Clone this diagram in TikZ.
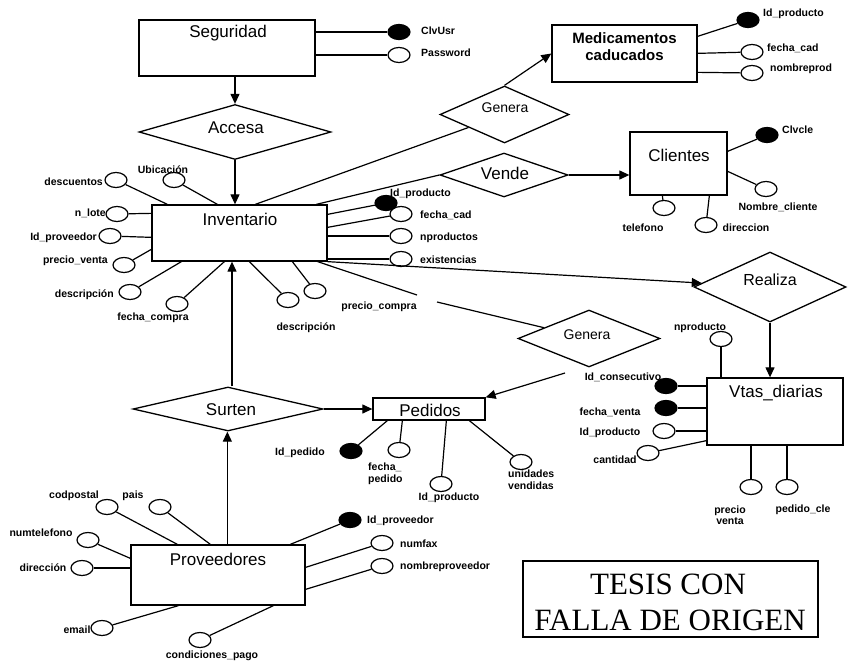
\documentclass[tikz,border=0pt]{standalone}
\usepackage{fontspec}
\setmainfont{Liberation Sans}
\newfontfamily\stampfont{Liberation Serif}
\usetikzlibrary{shapes.geometric,arrows.meta}
\begin{document}
\begin{tikzpicture}[x=1pt,y=-1pt]
\tikzset{
 ent/.style={draw, line width=1.3pt, rectangle, inner sep=0pt},
 rel/.style={draw, diamond, aspect=3.5, line width=1.3pt, inner sep=0pt},
 att/.style={draw, ellipse, line width=1.2pt, minimum width=22pt, minimum height=15pt, inner sep=0pt},
 katt/.style={att, fill=black},
 lbl/.style={font=\bfseries\fontsize{10.5}{11.5}\selectfont, inner sep=0pt},
 ename/.style={font=\fontsize{17}{20}\selectfont, inner sep=0pt},
 rname/.style={font=\fontsize{16}{19}\selectfont, inner sep=0pt},
 con/.style={line width=1.2pt},
 arr/.style={con, -{Triangle[length=10pt,width=9pt]}},
}
\useasboundingbox (0,0) rectangle (848,661);

% ---------------- entities
\node[ent, minimum width=176pt, minimum height=56pt] (seg) at (227,48) {};
\node[ename] (segT) at (228,33) {Seguridad};
\node[ent, minimum width=175pt, minimum height=56pt] (inv) at (239.5,233) {};
\node[ename] (invT) at (240,219) {Inventario};
\node[ent, minimum width=145pt, minimum height=57pt] (med) at (624.5,53.5) {};
\node[ename, font=\bfseries\fontsize{15}{17}\selectfont] (medT1) at (624.5,38) {Medicamentos};
\node[ename, font=\bfseries\fontsize{15}{17}\selectfont] (medT2) at (624.5,55) {caducados};
\node[ent, minimum width=97pt, minimum height=63pt] (cli) at (678.5,163.5) {};
\node[ename] (cliT) at (679,155) {Clientes};
\node[ent, minimum width=136pt, minimum height=67pt] (vtas) at (775,411.5) {};
\node[ename] (vtasT) at (776,393) {Vtas\_diarias};
\node[ent, minimum width=112pt, minimum height=22pt] (ped) at (429,409) {};
\node[ename] (pedT) at (430,410) {Pedidos};
\node[ent, minimum width=174pt, minimum height=60pt] (prov) at (218,575) {};
\node[ename] (provT) at (218,559) {Proveedores};

% ---------------- relationships
\node[rel, minimum width=192pt, minimum height=55pt] (acc) at (235,132) {};
\node[ename] (accT) at (236,128) {Accesa};
\node[rel, minimum width=129pt, minimum height=57pt] (gen1) at (504.5,114.5) {};
\node[rname, font=\fontsize{14}{16}\selectfont] (gen1T) at (505,108) {Genera};
\node[rel, minimum width=128pt, minimum height=44pt] (ven) at (504,175) {};
\node[ename] (venT) at (505,173) {Vende};
\node[rel, minimum width=152pt, minimum height=70pt] (rea) at (770,287) {};
\node[rname] (reaT) at (770,280) {Realiza};
\node[rel, minimum width=142pt, minimum height=57pt] (gen2) at (589,338.5) {};
\node[rname, font=\fontsize{14}{16}\selectfont] (gen2T) at (587,335) {Genera};
\node[rel, minimum width=190pt, minimum height=44pt] (sur) at (228,409) {};
\node[ename] (surT) at (231,410) {Surten};

% ---------------- relationship connectors
\draw[arr] (acc.north |- seg.south) -- (acc.north);
\draw[arr] (acc.south) -- (acc.south |- inv.north);
\draw[con] ([xshift=104pt]inv.north west) -- (gen1);
\draw[arr] (gen1.north) -- (med.west);
\draw[con] ([xshift=165pt]inv.north west) -- (ven.west);
\draw[arr] (ven.east) -- (ven.east -| cli.west);
\draw[arr] (inv.south east) -- (rea);
\draw[arr] (rea.south) -- (rea.south |- vtas.north);
\coordinate (pc1) at (417,295);
\coordinate (pc2) at (437,302);
\draw[con] ([xshift=-10pt]inv.south east) -- (pc1);
\draw[con] (pc2) -- (gen2);
\coordinate (g2a) at (565,373);
\draw[arr] (g2a) -- (ped.north east);
\draw[arr] ([xshift=4pt]sur.north) -- ([xshift=4pt]sur.north |- inv.south);
\draw[arr] (sur.east) -- (ped.west);
\draw[arr] ([xshift=97pt]prov.north west) -- ([xshift=97pt]prov.north west |- sur.south);

% ---------------- Seguridad attributes
\node[katt] (clv) at (399,32) {};
\node[lbl, anchor=west] (clvL) at (421,31) {ClvUsr};
\node[att] (pwd) at (399,55) {};
\node[lbl, anchor=west] (pwdL) at (421,53) {Password};
\draw[con] (seg.east |- clv) -- (clv);
\draw[con] (seg.east |- pwd) -- (pwd);

% ---------------- Medicamentos attributes
\node[katt] (mid) at (748,20) {};
\node[lbl, anchor=west] (midL) at (763,14) {Id\_producto};
\node[att] (mfc) at (752,52) {};
\node[lbl, anchor=west] (mfcL) at (767,48) {fecha\_cad};
\node[att] (mnp) at (752,73) {};
\node[lbl, anchor=west] (mnpL) at (770,69) {nombreprod};
\draw[con] ([yshift=-12pt]med.north east) -- (mid);
\draw[con] ([yshift=-29pt]med.north east) -- (mfc);
\draw[con] ([yshift=-48pt]med.north east) -- (mnp);

% ---------------- Clientes attributes
\node[katt] (clc) at (767,135) {};
\node[lbl, anchor=west] (clcL) at (782,130) {Clvcle};
\node[att] (nomc) at (766,189) {};
\node[lbl] (nomcL) at (778,207) {Nombre\_cliente};
\node[att] (tel) at (664,208) {};
\node[lbl] (telL) at (643,228) {telefono};
\node[att] (dirc) at (706,225) {};
\node[lbl] (dircL) at (746,228) {direccion};
\draw[con] ([yshift=-20pt]cli.north east) -- (clc);
\draw[con] ([yshift=-40pt]cli.north east) -- (nomc);
\draw[con] ([xshift=33pt]cli.south west) -- (tel);
\draw[con] ([xshift=80pt]cli.south west) -- (dirc);

% ---------------- Inventario attributes
\node[att] (desc) at (116,180) {};
\node[lbl, anchor=east] (descL) at (103,182) {descuentos};
\node[att] (ubi) at (174,180) {};
\node[lbl] (ubiL) at (163,170) {Ubicación};
\node[att] (lote) at (117,214) {};
\node[lbl, anchor=east] (loteL) at (106,213) {n\_lote};
\node[att] (iprv) at (110,236) {};
\node[lbl, anchor=east] (iprvL) at (97,238) {Id\_proveedor};
\node[att] (pv) at (124,265) {};
\node[lbl, anchor=east] (pvL) at (108,261) {precio\_venta};
\node[att] (dsc) at (130,292) {};
\node[lbl, anchor=east] (dscL) at (114,295) {descripción};
\node[att] (fcom) at (177,304) {};
\node[lbl] (fcomL) at (153,318) {fecha\_compra};
\node[att] (dsa) at (288,300) {};
\node[att] (dsb) at (315,291) {};
\node[lbl] (dsbL) at (306,328) {descripción};
\node[lbl] (pcL) at (379,307) {precio\_compra};
\node[katt] (ipr) at (386,203) {};
\node[lbl, anchor=west] (iprL) at (390,194) {Id\_producto};
\node[att] (ifc) at (401,214) {};
\node[lbl, anchor=west] (ifcL) at (420,215) {fecha\_cad};
\node[att] (inp) at (401,236) {};
\node[lbl, anchor=west] (inpL) at (420,238) {nproductos};
\node[att] (iex) at (401,259) {};
\node[lbl, anchor=west] (iexL) at (420,260) {existencias};
\draw[con] ([xshift=16pt]inv.north west) -- (desc);
\draw[con] ([xshift=66pt]inv.north west) -- (ubi);
\draw[con] ([yshift=-9pt]inv.north west) -- (lote);
\draw[con] ([yshift=-33pt]inv.north west) -- (iprv);
\draw[con] ([yshift=-45pt]inv.north west) -- (pv);
\draw[con] ([xshift=30pt]inv.south west) -- (dsc);
\draw[con] ([xshift=73pt]inv.south west) -- (fcom);
\draw[con] ([xshift=98pt]inv.south west) -- (dsa);
\draw[con] ([xshift=141pt]inv.south west) -- (dsb);
\draw[con] ([yshift=-10pt]inv.north east) -- (ipr);
\draw[con] ([yshift=-23pt]inv.north east) -- (ifc);
\draw[con] (inv.east |- inp) -- (inp);
\draw[con] (inv.east |- iex) -- (iex);

% ---------------- Vtas_diarias attributes
\node[att] (vnp) at (721,339) {};
\node[lbl] (vnpL) at (700,328) {nproducto};
\node[katt] (vic) at (666,386) {};
\node[lbl] (vicL) at (623,377) {Id\_consecutivo};
\node[katt] (vfv) at (666,408) {};
\node[lbl] (vfvL) at (610,412) {fecha\_venta};
\node[att] (vip) at (664,431) {};
\node[lbl] (vipL) at (610,433) {Id\_producto};
\node[att] (vca) at (648,453) {};
\node[lbl] (vcaL) at (615,460) {cantidad};
\node[att] (vpv) at (751,487) {};
\node[lbl, align=center] (vpvL) at (730,515) {precio\\venta};
\node[att] (vpc) at (787,487) {};
\node[lbl] (vpcL) at (803,510) {pedido\_cle};
\draw[con] (vnp.south) -- (vnp.south |- vtas.north);
\draw[con] (vic) -- (vic -| vtas.west);
\draw[con] (vfv) -- (vfv -| vtas.west);
\draw[con] (vip) -- (vip -| vtas.west);
\draw[con] ([yshift=5pt]vtas.south west) -- (vca);
\draw[con] (vpv.north |- vtas.south) -- (vpv.north);
\draw[con] (vpc.north |- vtas.south) -- (vpc.north);

% ---------------- Pedidos attributes
\node[katt] (pid) at (351,451) {};
\node[lbl] (pidL) at (300,453) {Id\_pedido};
\node[att] (pfp) at (399,450) {};
\node[lbl, anchor=north west, align=left] (pfpL) at (368,463) {fecha\_\\pedido};
\node[att] (pip) at (441,484) {};
\node[lbl] (pipL) at (449,498) {Id\_producto};
\node[att] (pun) at (521,462) {};
\node[lbl, anchor=north west, align=left] (punL) at (508,470) {unidades\\vendidas};
\draw[con] ([xshift=15pt]ped.south west) -- (pid);
\draw[con] ([xshift=30pt]ped.south west) -- (pfp);
\draw[con] ([xshift=74pt]ped.south west) -- (pip);
\draw[con] ([xshift=97pt]ped.south west) -- (pun);

% ---------------- Proveedores attributes
\node[att] (cp) at (107,507) {};
\node[lbl] (cpL) at (74,496) {codpostal};
\node[att] (pais) at (160,507) {};
\node[lbl] (paisL) at (133,496) {pais};
\node[att] (ntel) at (88,540) {};
\node[lbl] (ntelL) at (41,533) {numtelefono};
\node[att] (pdir) at (82,568) {};
\node[lbl] (pdirL) at (43,568) {dirección};
\node[att] (mail) at (102,628) {};
\node[lbl] (mailL) at (77,630) {email};
\node[att] (cond) at (200,640) {};
\node[lbl] (condL) at (212,656) {condiciones\_pago};
\node[katt] (pidp) at (350,520) {};
\node[lbl, anchor=west] (pidpL) at (367,521) {Id\_proveedor};
\node[att] (pfax) at (382,543) {};
\node[lbl, anchor=west] (pfaxL) at (400,544) {numfax};
\node[att] (pnom) at (382,566) {};
\node[lbl, anchor=west] (pnomL) at (400,567) {nombreproveedor};
\draw[con] ([xshift=47pt]prov.north west) -- (cp);
\draw[con] ([xshift=80pt]prov.north west) -- (pais);
\draw[con] ([yshift=-14pt]prov.north west) -- (ntel);
\draw[con] (prov.west |- pdir) -- (pdir);
\draw[con] ([xshift=48pt]prov.south west) -- (mail);
\draw[con] ([xshift=143pt]prov.south west) -- (cond);
\draw[con] ([xshift=160pt]prov.north west) -- (pidp);
\draw[con] ([yshift=-23pt]prov.north east) -- (pfax);
\draw[con] ([yshift=-45pt]prov.north east) -- (pnom);

% ---------------- stamp
\node[draw, line width=1.5pt, minimum width=295pt, minimum height=76pt, inner sep=0pt] (stamp) at (670.5,599) {};
\node[font=\stampfont\fontsize{31}{33}\selectfont, inner sep=0pt] (st1) at (668,584) {TESIS CON};
\node[font=\stampfont\fontsize{31}{33}\selectfont, inner sep=0pt] (st2) at (670,620) {FALLA DE ORIGEN};
\end{tikzpicture}
\end{document}
